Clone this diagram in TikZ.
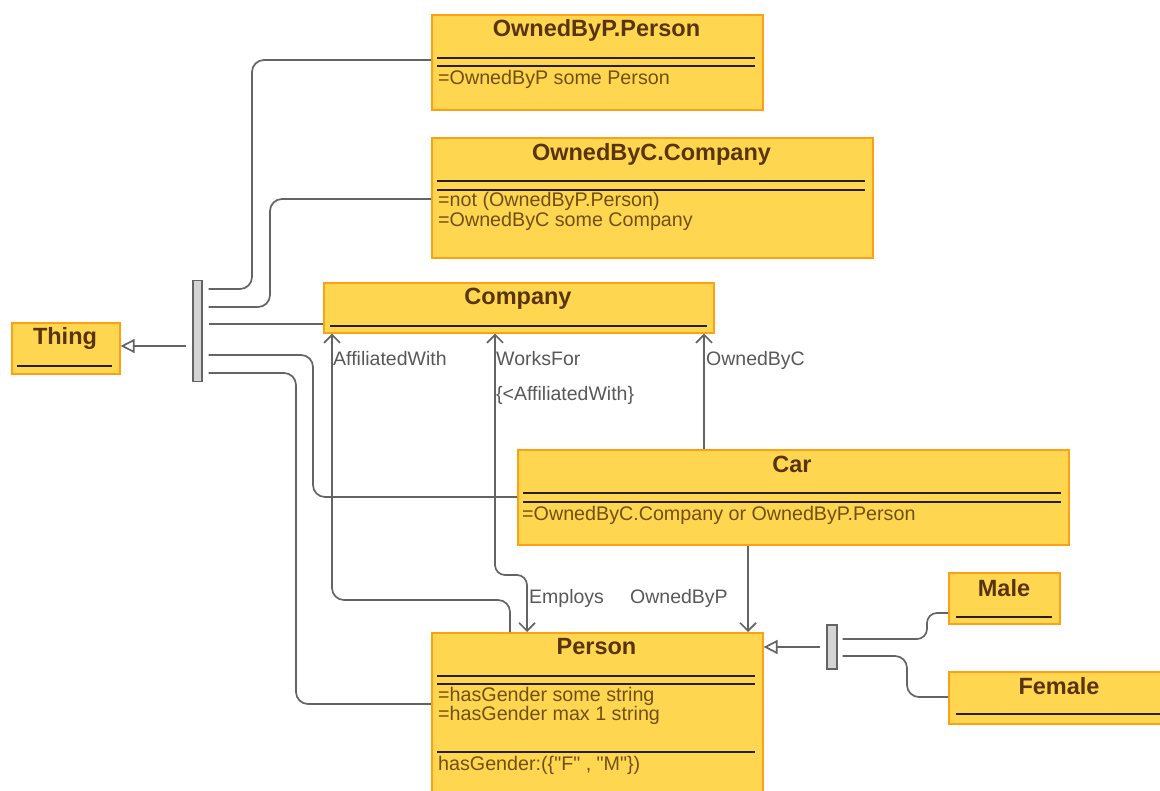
\documentclass[tikz,border=0pt]{standalone}
\usepackage{fontspec}
\setmainfont{Liberation Sans}
\newfontfamily\plainsans{Liberation Sans}
\usetikzlibrary{arrows.meta}

\definecolor{boxfill}{RGB}{255,214,79}
\definecolor{boxline}{RGB}{255,160,20}
\definecolor{titlecol}{RGB}{88,52,6}
\definecolor{attrcol}{RGB}{112,80,16}
\definecolor{sepcol}{RGB}{40,30,10}
\definecolor{conncol}{RGB}{100,100,100}
\definecolor{lblcol}{RGB}{88,88,88}
\definecolor{barfill}{RGB}{212,212,212}

\begin{document}
\begin{tikzpicture}[x=1pt,y=-1pt,
  umlbox/.style={draw=boxline, fill=boxfill, line width=1.6pt, rectangle, inner sep=0pt, anchor=north west},
  ttl/.style={font=\fontsize{23.5}{26}\selectfont\bfseries, text=titlecol, anchor=base, inner sep=0pt},
  attr/.style={font=\fontsize{19.7}{22}\selectfont, text=attrcol, anchor=base west, inner sep=0pt},
  lbl/.style={font=\fontsize{19.5}{22}\selectfont, text=lblcol, anchor=base west, inner sep=0pt},
  sep/.style={draw=sepcol, line width=1.8pt},
  conn/.style={draw=conncol, line width=1.7pt, rounded corners=12pt},
  assoc/.style={conn, -{Straight Barb[length=8pt,width=16pt]}},
  assocboth/.style={conn, {Straight Barb[length=8pt,width=16pt]}-{Straight Barb[length=8pt,width=16pt]}},
  gen/.style={conn, -{Triangle[open, length=14pt, width=14pt, fill=white]}},
  genbar/.style={draw=conncol, fill=barfill, line width=1.4pt, inner sep=0pt}
]
\useasboundingbox (0,0) rectangle (1160,791);
\clip (0,0) rectangle (1160,791);

% ---- classes ----
\node[umlbox, minimum width=331pt, minimum height=95pt]  (opp)     at (431,14)  {};
\node[umlbox, minimum width=441pt, minimum height=120pt] (obc)     at (431,137) {};
\node[umlbox, minimum width=390pt, minimum height=50pt]  (company) at (323,282) {};
\node[umlbox, minimum width=108pt, minimum height=51pt]  (thing)   at (11,322)  {};
\node[umlbox, minimum width=551pt, minimum height=95pt]  (car)     at (517,449) {};
\node[umlbox, minimum width=331pt, minimum height=165pt] (person)  at (431,632) {};
\node[umlbox, minimum width=111pt, minimum height=51pt]  (male)    at (948,572) {};
\node[umlbox, minimum width=222pt, minimum height=52pt]  (female)  at (948,671) {};

% titles
\node[ttl] (opp-t)     at (596.5,37) {OwnedByP.Person};
\node[ttl] (obc-t)     at (651.5,161) {OwnedByC.Company};
\node[ttl] (company-t) at (518,305) {Company};
\node[ttl] (thing-t)   at (65,345) {Thing};
\node[ttl] (car-t)     at (792,473) {Car};
\node[ttl] (person-t)  at (596.5,654) {Person};
\node[ttl] (male-t)    at (1004,596) {Male};
\node[ttl] (female-t)  at (1059,694) {Female};

% compartment separators
\draw[sep] (437,58) -- (755,58);  \draw[sep] (437,66) -- (755,66);
\draw[sep] (437,181) -- (865,181); \draw[sep] (437,190) -- (865,190);
\draw[sep] (330,326) -- (707,326);
\draw[sep] (17,366) -- (112,366);
\draw[sep] (523,493) -- (1061,493); \draw[sep] (523,502) -- (1061,502);
\draw[sep] (437,676) -- (755,676); \draw[sep] (437,684) -- (755,684);
\draw[sep] (437,752) -- (755,752);
\draw[sep] (956,617) -- (1052,617);
\draw[sep] (956,714) -- (1170,714);

% attributes
\node[attr] (opp-a1)    at (438,85)  {=OwnedByP some Person};
\node[attr] (obc-a1)    at (438,207) {=not (OwnedByP.Person)};
\node[attr] (obc-a2)    at (438,226.5) {=OwnedByC some Company};
\node[attr] (car-a1)    at (522,520.5) {=OwnedByC.Company or OwnedByP.Person};
\node[attr] (person-a1) at (438,701.5) {=hasGender some string};
\node[attr] (person-a2) at (438,720.5) {=hasGender max 1 string};
\node[attr] (person-a3) at (438,770.5) {\plainsans hasGender:(\{"F" , "M"\})};

% ---- generalisation sets ----
\node[genbar, minimum width=9pt, minimum height=101pt] (bar1) at (197.5,331) {};
\node[genbar, minimum width=10pt, minimum height=44pt] (bar2) at (832,647) {};

\draw[gen, shorten <=6pt] (bar1.west |- 0,346) -- (thing.east |- 0,346);
\draw[conn, shorten <=6pt] (bar1.east |- 0,289) -- (252,289) -- (252,60) -- (opp.west |- 0,60);
\draw[conn, shorten <=6pt] (bar1.east |- 0,307) -- (270,307) -- (270,199) -- (obc.west |- 0,199);
\draw[conn, shorten <=6pt] (bar1.east |- 0,324) -- (company.west |- 0,324);
\draw[conn, shorten <=6pt] (bar1.east |- 0,355) -- (313,355) -- (313,497) -- (car.west |- 0,497);
\draw[conn, shorten <=6pt] (bar1.east |- 0,373) -- (296,373) -- (296,704) -- (person.west |- 0,704);

\draw[gen, shorten <=6pt] (bar2.west) -- (person.east |- bar2.west);
\draw[conn, rounded corners=10pt, shorten <=5pt] (bar2.east |- 0,639) -- (927,639) -- (927,613) -- (male.west |- 0,613);
\draw[conn, shorten <=5pt] (bar2.east |- 0,656) -- (907,656) -- (907,697) -- (female.west |- 0,697);

% ---- associations ----
\draw[assoc] (person.north -| 510,0) -- (510,600) -- (332,600) -- (company.south -| 332,0);
\draw[assocboth, rounded corners=10pt] (company.south -| 495,0) -- (495,575) -- (527,575) -- (person.north -| 527,0);
\draw[assoc] (car.north -| 704,0) -- (company.south -| 704,0);
\draw[assoc] (car.south -| 748,0) -- (person.north -| 748,0);

\node[lbl] (l-aff)  at (333,366) {AffiliatedWith};
\node[lbl] (l-wf)   at (496,366) {WorksFor};
\node[lbl] (l-wf2)  at (496,401) {\{<AffiliatedWith\}};
\node[lbl] (l-obc)  at (706,366) {OwnedByC};
\node[lbl] (l-emp)  at (529,603) {Employs};
\node[lbl] (l-obp)  at (630,603) {OwnedByP};
\end{tikzpicture}
\end{document}
